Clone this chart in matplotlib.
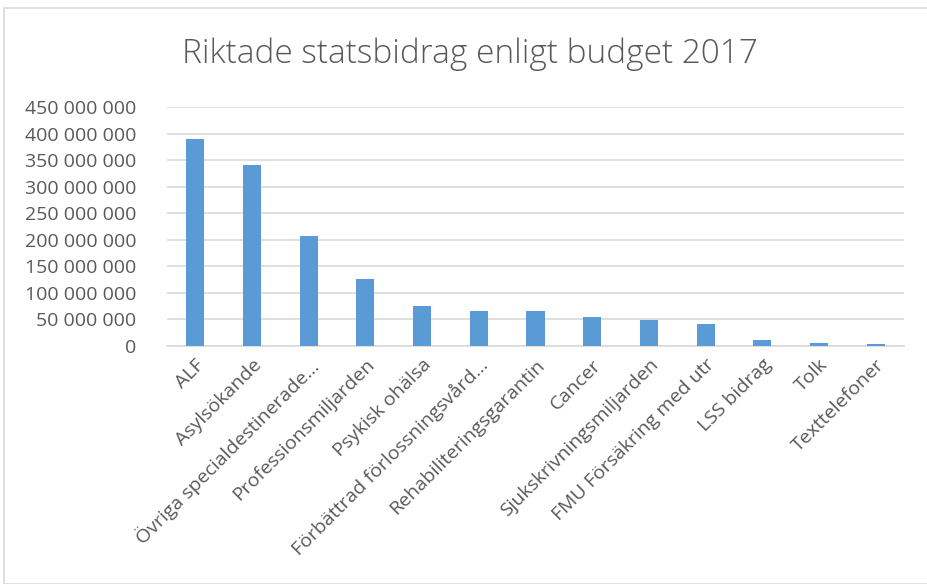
import matplotlib.pyplot as plt
from matplotlib.ticker import FuncFormatter
from matplotlib.patches import Rectangle

kategorier = ['ALF', 'Asylsökande', 'Övriga specialdestinerade…', 'Professionsmiljarden',
              'Psykisk ohälsa', 'Förbättrad förlossningsvård…', 'Rehabiliteringsgarantin',
              'Cancer', 'Sjukskrivningsmiljarden', 'FMU Försäkring med utr', 'LSS bidrag',
              'Tolk', 'Texttelefoner']
belopp = [389e6, 340e6, 208e6, 125.5e6, 76e6, 65.6e6, 65e6, 53.8e6, 49.3e6, 40.5e6,
          12e6, 5e6, 3e6]
yticks = list(range(0, 450000001, 50000000))

plt.rcParams['font.family'] = ['Open Sans', 'DejaVu Sans']

fig = plt.figure(figsize=(9.27, 5.84), dpi=100)
ax = fig.add_axes([167/927, 1-346/584, 737/927, 239/584])

x = range(len(kategorier))
ax.bar(x, belopp, width=0.32, color='#5B9BD5', zorder=3)

ax.set_ylim(0, 450000000)
ax.set_xlim(-0.5, len(kategorier)-0.5)
ax.set_yticks(yticks)
ax.yaxis.set_major_formatter(FuncFormatter(lambda v, p: f'{int(v):,}'.replace(',', ' ')))
ax.grid(axis='y', color='#D9D9D9', lw=1.2, zorder=0)
for s in ['top', 'right', 'left']:
    ax.spines[s].set_visible(False)
ax.spines['bottom'].set_color('#D9D9D9')
ax.spines['bottom'].set_linewidth(1.2)
ax.tick_params(length=0, labelsize=14, colors='#595959', pad=7)
ax.tick_params(axis='y', pad=22)
ax.set_xticks(list(x))
ax.set_xticklabels(kategorier, rotation=45, ha='right', rotation_mode='anchor')

fig.text(470/927, 1-54/584, 'Riktade statsbidrag enligt budget 2017', ha='center', va='center',
         fontsize=24, color='#595959', fontweight='light')
fig.patches.append(Rectangle((4/927, 0), 1, 1-8/584, transform=fig.transFigure,
                             fill=False, edgecolor='#D9D9D9', lw=1.2))

fig.savefig('out.png', dpi=100)
